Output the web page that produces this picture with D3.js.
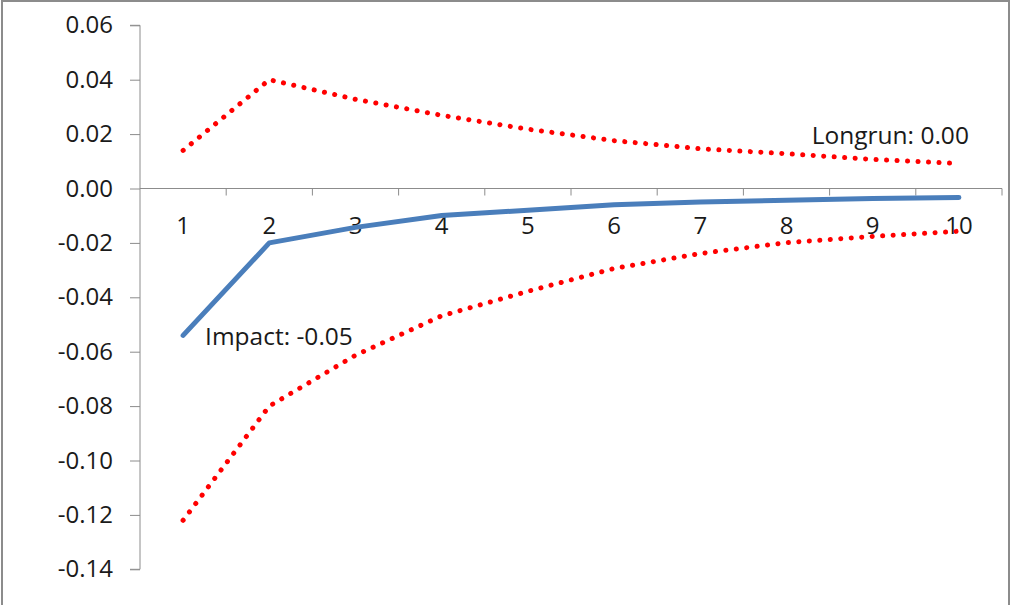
<!DOCTYPE html>
<html>
<head>
<meta charset="utf-8">
<script src="https://cdn.jsdelivr.net/npm/d3@7"></script>
<style>
  html, body { margin: 0; padding: 0; background: #fff; }
  svg { display: block; }
  text { font-family: "Open Sans", "Noto Sans", sans-serif; fill: #1a1a1a; }
</style>
</head>
<body>
<svg id="chart" width="1011" height="605"></svg>
<script>
// Impulse response horizons
const periods = [1, 2, 3, 4, 5, 6, 7, 8, 9, 10];
// Point estimate of the response
const response = [-0.054, -0.020, -0.0143, -0.0099, -0.0080, -0.0060, -0.0050, -0.0043, -0.0037, -0.0033];
// Confidence band
const upperBand = [0.014, 0.040, 0.0328, 0.0269, 0.0218, 0.0176, 0.0146, 0.0128, 0.0107, 0.0092];
const lowerBand = [-0.122, -0.080, -0.0613, -0.0468, -0.0378, -0.0294, -0.0239, -0.0199, -0.0176, -0.0157];
// Long-run effect shown as an annotation
const longrunEffect = 0.00;
// Y tick values
const yTicks = [0.06, 0.04, 0.02, 0.00, -0.02, -0.04, -0.06, -0.08, -0.10, -0.12, -0.14];

const svg = d3.select("#chart");

// Outer frame
svg.append("rect")
  .attr("x", 2).attr("y", 1)
  .attr("width", 1007).attr("height", 620)
  .attr("fill", "none").attr("stroke", "#8c8c8c").attr("stroke-width", 2);

const x = d3.scaleBand().domain(periods).range([140, 1002]).padding(0);
const y = d3.scaleLinear().domain([-0.14, 0.06]).range([569.3, 25.3]);
const cx = d => x(d) + x.bandwidth() / 2;

// Y axis
const yAxis = d3.axisLeft(y).tickValues(yTicks).tickSize(10).tickPadding(17)
  .tickFormat(d => d.toFixed(2));
const gy = svg.append("g").attr("transform", "translate(140,0)").call(yAxis);
gy.select(".domain").attr("stroke", "#8c8c8c").attr("d", `M-10,${y(0.06)}H0V${y(-0.14)}H-10`);
gy.selectAll(".tick line").attr("stroke", "#8c8c8c");
gy.selectAll(".tick text").attr("font-size", 24).attr("fill", "#1a1a1a")
  .style("font-family", '"Open Sans", sans-serif');

// X axis drawn through zero, labels below
const gx = svg.append("g").attr("transform", `translate(0,${y(0)})`);
gx.append("line").attr("x1", 140).attr("x2", 1002).attr("y1", 0).attr("y2", 0)
  .attr("stroke", "#8c8c8c");
const boundaries = periods.map(p => x(p)).concat([x(periods[periods.length - 1]) + x.bandwidth()]);
gx.selectAll("line.tk").data(boundaries.slice(1)).enter().append("line")
  .attr("class", "tk")
  .attr("x1", d => d).attr("x2", d => d).attr("y1", 0).attr("y2", 7)
  .attr("stroke", "#8c8c8c");
gx.selectAll("text.lbl").data(periods).enter().append("text")
  .attr("class", "lbl")
  .attr("x", d => cx(d)).attr("y", 45)
  .attr("text-anchor", "middle").attr("font-size", 24)
  .text(d => d);

const line = d3.line().x((d, i) => cx(periods[i])).y(d => y(d));

// Confidence bands (dotted red)
[upperBand, lowerBand].forEach(band => {
  svg.append("path").datum(band)
    .attr("d", line)
    .attr("fill", "none")
    .attr("stroke", "#ff0000")
    .attr("stroke-width", 5)
    .attr("stroke-linecap", "round")
    .attr("stroke-dasharray", "0.1 10.4");
});

// Response (solid blue)
svg.append("path").datum(response)
  .attr("d", line)
  .attr("fill", "none")
  .attr("stroke", "#4a7ebb")
  .attr("stroke-width", 5)
  .attr("stroke-linejoin", "round")
  .attr("stroke-linecap", "round");

// Annotations
svg.append("text")
  .attr("x", cx(periods[0]) + 22)
  .attr("y", y(response[0]) + 10)
  .attr("font-size", 24.5)
  .text("Impact: " + response[0].toFixed(2));

svg.append("text")
  .attr("x", cx(periods[periods.length - 1]) + 10)
  .attr("y", y(response[response.length - 1]) - 53)
  .attr("text-anchor", "end")
  .attr("font-size", 24.5)
  .text("Longrun: " + longrunEffect.toFixed(2));
</script>
</body>
</html>
